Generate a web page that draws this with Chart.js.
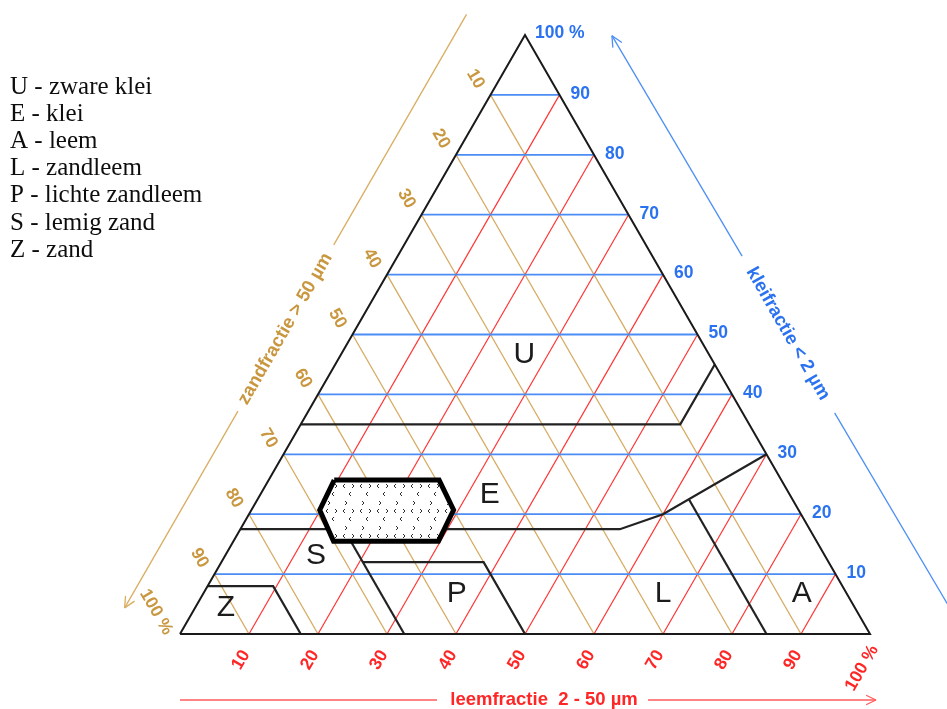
<!DOCTYPE html>
<html>
<head>
<meta charset="utf-8">
<script src="https://cdn.jsdelivr.net/npm/chart.js@4.4.0/dist/chart.umd.min.js"></script>
<style>
  html, body { margin: 0; padding: 0; background: #ffffff; }
  #wrap { width: 947px; height: 709px; position: relative; }
</style>
</head>
<body>
<div id="wrap"><canvas id="chart" width="947" height="709"></canvas></div>
<script>
// Belgische textuurdriehoek: klei (< 2 µm), leem (2 - 50 µm), zand (> 50 µm)
const clayTicks = [10, 20, 30, 40, 50, 60, 70, 80, 90];
const siltTicks = [10, 20, 30, 40, 50, 60, 70, 80, 90];
const sandTicks = [10, 20, 30, 40, 50, 60, 70, 80, 90];

const classCodes = ['U', 'E', 'A', 'L', 'P', 'S', 'Z'];
const classNames = ['zware klei', 'klei', 'leem', 'zandleem', 'lichte zandleem', 'lemig zand', 'zand'];
// where each class letter sits: leem % and klei %
const classLabelSilt = [26.5, 33.2, 86.7, 66.6, 36.7, 13.1, 4.4];
const classLabelClay = [46.8, 23.4, 6.85, 6.85, 6.85, 13.2, 4.5];

// class boundaries, vertices as [leem %, klei %]
const boundaryUE = [[0, 35], [55, 35], [55, 45]];
const boundaryE  = [[0, 17.5], [55, 17.5], [60, 20], [70, 30]];
const boundaryLA = [[85, 0], [62.5, 22.5]];
const boundarySP = [[32.5, 0], [15, 17.5]];
const boundaryP  = [[20.5, 12], [38, 12], [50, 0]];
const boundaryZ  = [[0, 8], [9.5, 8], [17.5, 0]];

// marked zone (hexagon), leem % and klei % of its corners
const zoneSilt = [9.5, 24.7, 29.3, 29.7, 14.5, 9.9];
const zoneClay = [25.7, 25.7, 20.7, 15.5, 15.5, 20.7];

const H = Math.sqrt(3) / 2;
// ternary (leem, klei) -> cartesian chart value
function tp(silt, clay) { return { x: silt + clay / 2, y: clay * H }; }

const BLUE = '#4b8df5', BLUE_TXT = '#2a72f0';
const RED = '#ff3434', RED_TXT = '#ff2626', RED_ARROW = '#ff5c5c';
const TAN = '#d6aa62', TAN_TXT = '#c9973f';
const INK = '#222222';

function seg(points, color, width, order) {
  return {
    data: points, showLine: true, borderColor: color, borderWidth: width,
    pointRadius: 0, fill: false, order: order, clip: false,
    borderJoinStyle: 'miter', borderCapStyle: 'butt'
  };
}

function makeDotPattern() {
  const w = 17, h = 25;
  const c = document.createElement('canvas');
  c.width = w; c.height = h;
  const g = c.getContext('2d');
  g.fillStyle = '#ffffff';
  g.fillRect(0, 0, w, h);
  g.fillStyle = '#2e2e2e';
  const d = (x, y) => g.fillRect(((x % w) + w) % w, ((y % h) + h) % h, 1, 1);
  const right = (x, y) => { d(x, y); d(x + 1, y + 1); d(x + 1, y + 2); d(x, y + 3); };
  const left = (x, y) => { d(x + 1, y); d(x, y + 1); d(x, y + 2); d(x + 1, y + 3); };
  // three staggered rows of small chevrons
  right(5, 1);
  left(3, 9); right(12, 9);
  left(9, 17);
  return g.createPattern(c, 'repeat');
}

const datasets = [];
// zand lines (parallel to right edge)
sandTicks.forEach(s => datasets.push(seg([tp(0, 100 - s), tp(100 - s, 0)], TAN, 1.3, 6)));
// leem lines (parallel to left edge)
siltTicks.forEach(s => datasets.push(seg([tp(s, 0), tp(s, 100 - s)], RED, 1.2, 5)));
// klei lines (horizontal)
clayTicks.forEach(c => datasets.push(seg([tp(0, c), tp(100 - c, c)], BLUE, 1.8, 4)));
// class boundaries
[boundaryUE, boundaryE, boundaryLA, boundarySP, boundaryP, boundaryZ].forEach(b =>
  datasets.push(seg(b.map(p => tp(p[0], p[1])), INK, 2.2, 3)));
// triangle outline
datasets.push(seg([tp(0, 0), tp(100, 0), tp(0, 100), tp(0, 0)], '#1a1a1a', 2, 2));
// marked zone
const zonePts = zoneSilt.map((s, i) => tp(s, zoneClay[i]));
zonePts.push(zonePts[0]);
const zone = seg(zonePts, '#000000', 5, 1);
zone.fill = 'shape';
zone.backgroundColor = makeDotPattern();
datasets.push(zone);

function arrowHead(ctx, tip, dir, len) {
  // dir: unit vector the arrow points to
  const a = Math.PI / 7;
  const bx = -dir.x, by = -dir.y;
  for (const s of [-1, 1]) {
    const c = Math.cos(a * s), sn = Math.sin(a * s);
    const rx = bx * c - by * sn, ry = bx * sn + by * c;
    ctx.beginPath();
    ctx.moveTo(tip.x, tip.y);
    ctx.lineTo(tip.x + rx * len, tip.y + ry * len);
    ctx.stroke();
  }
}

const textLayer = {
  id: 'textLayer',
  afterDatasetsDraw(chart) {
    const ctx = chart.ctx;
    const xs = chart.scales.x, ys = chart.scales.y;
    const px = (silt, clay) => {
      const p = tp(silt, clay);
      return { x: xs.getPixelForValue(p.x), y: ys.getPixelForValue(p.y) };
    };
    const BL = px(0, 0), BR = px(100, 0), TOP = px(0, 100);
    ctx.save();

    // legend of the classes
    ctx.fillStyle = '#0d0d0d';
    ctx.font = '25px "Liberation Serif", "Times New Roman", serif';
    ctx.textAlign = 'left';
    ctx.textBaseline = 'alphabetic';
    classCodes.forEach((code, i) => {
      ctx.fillText(code + ' - ' + classNames[i], 10, 94 + i * 27.1);
    });

    // class letters
    ctx.fillStyle = '#1c1c1c';
    ctx.font = '30px "Liberation Sans", Arial, sans-serif';
    ctx.textAlign = 'center';
    ctx.textBaseline = 'middle';
    classCodes.forEach((code, i) => {
      const p = px(classLabelSilt[i], classLabelClay[i]);
      ctx.fillText(code, p.x, p.y + 1);
    });

    const numFont = 'bold 17.5px "Liberation Sans", Arial, sans-serif';
    // klei ticks on the right edge
    ctx.fillStyle = BLUE_TXT;
    ctx.font = numFont;
    ctx.textAlign = 'left';
    ctx.textBaseline = 'middle';
    clayTicks.forEach(c => {
      const p = px(100 - c, c);
      ctx.fillText(String(c), p.x + 11, p.y - 1);
    });
    ctx.fillText('100 %', TOP.x + 10, TOP.y - 2);

    const rotText = (txt, x, y, ang) => {
      ctx.save();
      ctx.translate(x, y);
      ctx.rotate(ang);
      ctx.textAlign = 'center';
      ctx.textBaseline = 'middle';
      ctx.fillText(txt, 0, 0);
      ctx.restore();
    };

    // zand ticks on the left edge
    ctx.fillStyle = TAN_TXT;
    sandTicks.forEach(s => {
      const p = px(0, 100 - s);
      rotText(String(s), p.x - 15, p.y - 16, Math.PI / 3);
    });
    rotText('100 %', BL.x - 24, BL.y - 22, Math.PI / 3);

    // leem ticks under the base
    ctx.fillStyle = RED_TXT;
    siltTicks.forEach(s => {
      const p = px(s, 0);
      rotText(String(s), p.x - 8, p.y + 26, -Math.PI / 3);
    });
    rotText('100 %', BR.x - 8, BR.y + 34, -Math.PI / 3);

    // axis arrows and titles
    const titleFont = 'bold 18.5px "Liberation Sans Narrow", "Liberation Sans", Arial, sans-serif';
    ctx.lineWidth = 1.3;

    // zandfractie, along the left edge
    {
      const L = Math.hypot(TOP.x - BL.x, TOP.y - BL.y);
      const u = { x: (TOP.x - BL.x) / L, y: (TOP.y - BL.y) / L };
      const n = { x: u.y, y: -u.x };
      const P = (t, d) => ({ x: BL.x + u.x * t + n.x * d, y: BL.y + u.y * t + n.y * d });
      const d = 61;
      ctx.strokeStyle = '#d9ad62';
      const a = P(680, d), b = P(414, d), c = P(222, d), e = P(-5, d);
      ctx.beginPath(); ctx.moveTo(a.x, a.y); ctx.lineTo(b.x, b.y); ctx.stroke();
      ctx.beginPath(); ctx.moveTo(c.x, c.y); ctx.lineTo(e.x, e.y); ctx.stroke();
      arrowHead(ctx, e, { x: -u.x, y: -u.y }, 12);
      ctx.fillStyle = TAN_TXT;
      ctx.font = titleFont;
      const m = P(317, d);
      rotText('zandfractie > 50 µm', m.x, m.y, Math.atan2(u.y, u.x));
    }

    // kleifractie, along the right edge
    {
      const L = Math.hypot(BR.x - TOP.x, BR.y - TOP.y);
      const v = { x: (BR.x - TOP.x) / L, y: (BR.y - TOP.y) / L };
      const m = { x: v.y, y: -v.x };
      const dAt = t => 75 + (t - 44) * (7 / 655);
      const Q = t => ({ x: TOP.x + v.x * t + m.x * dAt(t), y: TOP.y + v.y * t + m.y * dAt(t) });
      ctx.strokeStyle = '#4d8ff5';
      const a = Q(44), b = Q(300), c = Q(482), e = Q(705);
      ctx.beginPath(); ctx.moveTo(a.x, a.y); ctx.lineTo(b.x, b.y); ctx.stroke();
      ctx.beginPath(); ctx.moveTo(c.x, c.y); ctx.lineTo(e.x, e.y); ctx.stroke();
      arrowHead(ctx, a, { x: -v.x, y: -v.y }, 12);
      ctx.fillStyle = BLUE_TXT;
      ctx.font = titleFont;
      const mid = Q(390);
      rotText('kleifractie < 2 µm', mid.x, mid.y, Math.atan2(v.y, v.x));
    }

    // leemfractie, under the base
    {
      const y = BL.y + 66;
      ctx.strokeStyle = RED_ARROW;
      ctx.beginPath(); ctx.moveTo(BL.x, y); ctx.lineTo(BL.x + 257, y); ctx.stroke();
      ctx.beginPath(); ctx.moveTo(BL.x + 468, y); ctx.lineTo(BR.x + 6, y); ctx.stroke();
      arrowHead(ctx, { x: BR.x + 6, y: y }, { x: 1, y: 0 }, 11);
      ctx.fillStyle = RED_TXT;
      ctx.font = titleFont;
      rotText('leemfractie  2 - 50 µm', BL.x + 364, y, 0);
    }

    ctx.restore();
  }
};

new Chart(document.getElementById('chart'), {
  type: 'scatter',
  data: { datasets: datasets },
  options: {
    responsive: false,
    animation: false,
    events: [],
    layout: { padding: { left: 180, right: 77, top: 35, bottom: 75 } },
    plugins: { legend: { display: false }, tooltip: { enabled: false } },
    elements: { point: { radius: 0 }, line: { tension: 0 } },
    scales: {
      x: { type: 'linear', min: 0, max: 100, display: false },
      y: { type: 'linear', min: 0, max: 100 * H, display: false }
    }
  },
  plugins: [textLayer]
});
</script>
</body>
</html>
